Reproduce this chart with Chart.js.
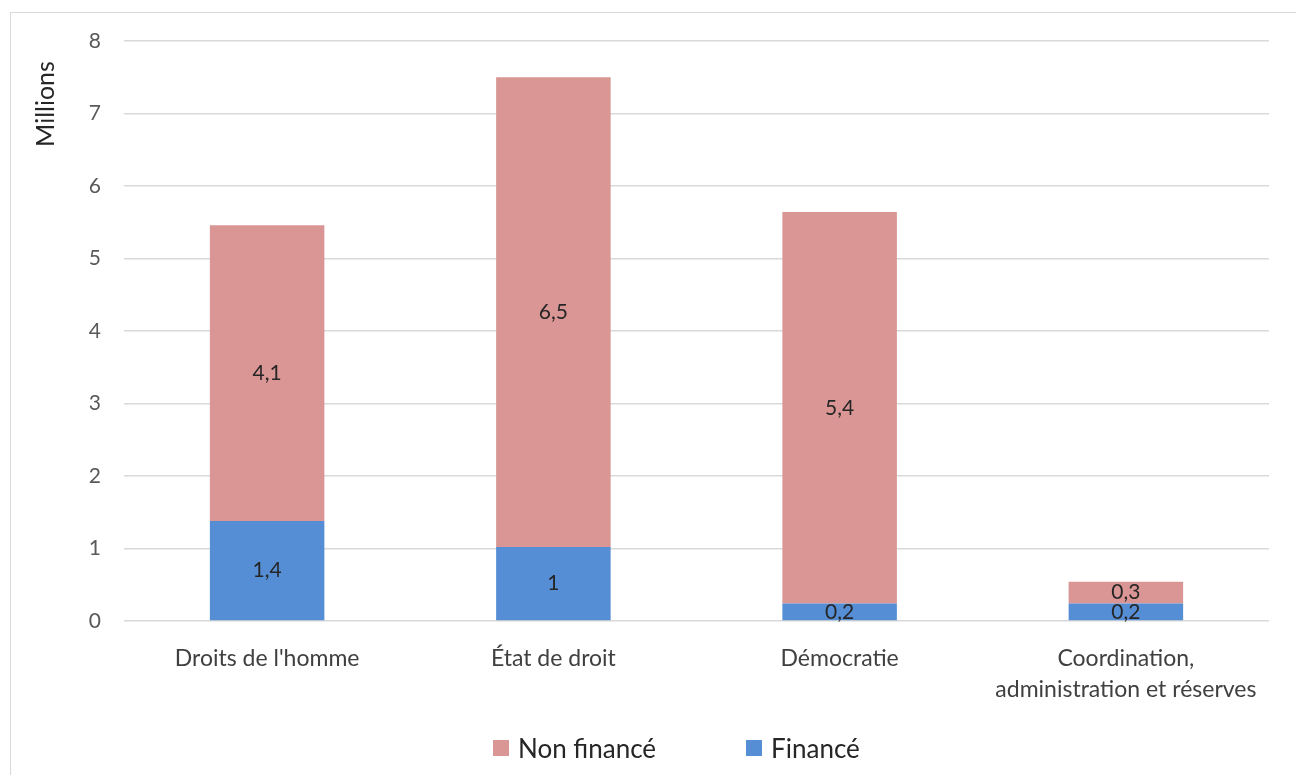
<!DOCTYPE html>
<html lang="fr">
<head>
<meta charset="utf-8">
<title>Financement par domaine</title>
<script src="https://cdn.jsdelivr.net/npm/chart.js@4.4.1/dist/chart.umd.min.js"></script>
<style>
  html, body { margin: 0; padding: 0; background: #fff; }
  body { width: 1296px; height: 775px; position: relative; overflow: hidden; font-family: Lato, 'Open Sans', sans-serif; }
  .frame { position: absolute; left: 10px; top: 12px; width: 1320px; height: 800px; border: 1px solid #d9d9d9; box-sizing: border-box; }
  #chart { position: absolute; left: 0; top: 0; }
  #legend { position: absolute; left: 493px; top: 732px; display: flex; align-items: center; gap: 90px; font-size: 26px; color: #262626; line-height: 32px; }
  #legend .item { display: flex; align-items: center; gap: 9px; }
  #legend .box { width: 16px; height: 16px; display: inline-block; }
</style>
</head>
<body>
<div class="frame"></div>
<canvas id="chart" width="1296" height="775"></canvas>
<div id="legend"></div>
<script>
const categories = [
  "Droits de l'homme",
  'État de droit',
  'Démocratie',
  ['Coordination,', 'administration et réserves'],
];
const finance = [1.38, 1.02, 0.24, 0.24];
const nonFinance = [4.08, 6.48, 5.4, 0.3];
const yTicks = [0, 1, 2, 3, 4, 5, 6, 7, 8];

const colorFinance = '#558ed5';
const colorNonFinance = '#d99694';
const fontFamily = 'Lato, "Open Sans", sans-serif';

// labels "1,4" style, centered inside each segment
const segmentLabels = {
  id: 'segmentLabels',
  afterDatasetsDraw(chart) {
    const ctx = chart.ctx;
    ctx.save();
    ctx.font = `21px ${fontFamily}`;
    ctx.fillStyle = '#262626';
    ctx.textAlign = 'center';
    ctx.textBaseline = 'middle';
    chart.data.datasets.forEach((ds, i) => {
      chart.getDatasetMeta(i).data.forEach((bar, j) => {
        const v = Math.round(ds.data[j] * 10) / 10;
        const text = String(v).replace('.', ',');
        const mid = (bar.y + bar.base) / 2;
        ctx.fillText(text, bar.x, mid);
      });
    });
    ctx.restore();
  },
};

// display-unit label at the top of the value axis
const unitLabel = {
  id: 'unitLabel',
  afterDraw(chart) {
    const ctx = chart.ctx;
    ctx.save();
    ctx.translate(46, 104);
    ctx.rotate(-Math.PI / 2);
    ctx.font = `25px ${fontFamily}`;
    ctx.fillStyle = '#262626';
    ctx.textAlign = 'center';
    ctx.textBaseline = 'middle';
    ctx.fillText('Millions', 0, 0);
    ctx.restore();
  },
};

const chart = new Chart(document.getElementById('chart'), {
  type: 'bar',
  data: {
    labels: categories,
    datasets: [
      {
        label: 'Financé',
        data: finance,
        backgroundColor: colorFinance,
      },
      {
        label: 'Non financé',
        data: nonFinance,
        backgroundColor: colorNonFinance,
      },
    ],
  },
  options: {
    responsive: false,
    animation: false,
    layout: { padding: { left: 0, right: 27, top: 41, bottom: 0 } },
    plugins: {
      legend: { display: false },
      tooltip: { enabled: false },
    },
    datasets: {
      bar: { categoryPercentage: 1, barPercentage: 0.4 },
    },
    scales: {
      x: {
        stacked: true,
        grid: { display: false },
        border: { display: false },
        ticks: {
          color: '#404040',
          padding: 14,
          maxRotation: 0,
          font: { family: fontFamily, size: 23, lineHeight: 1.35 },
        },
        afterFit: (s) => { s.height = 154; },
      },
      y: {
        stacked: true,
        min: 0,
        max: 8,
        afterBuildTicks: (s) => { s.ticks = yTicks.map((v) => ({ value: v })); },
        grid: { color: '#d9d9d9', lineWidth: 1.5, drawTicks: false },
        border: { display: false },
        ticks: {
          color: '#595959',
          padding: 23,
          font: { family: fontFamily, size: 21 },
        },
        afterFit: (s) => { s.width = 124; },
      },
    },
  },
  plugins: [segmentLabels, unitLabel],
});

// legend, listed top series first as in the original
const legendEl = document.getElementById('legend');
chart.data.datasets.slice().reverse().forEach((ds) => {
  const item = document.createElement('div');
  item.className = 'item';
  item.innerHTML = `<span class="box" style="background:${ds.backgroundColor}"></span><span>${ds.label}</span>`;
  legendEl.appendChild(item);
});
</script>
</body>
</html>
